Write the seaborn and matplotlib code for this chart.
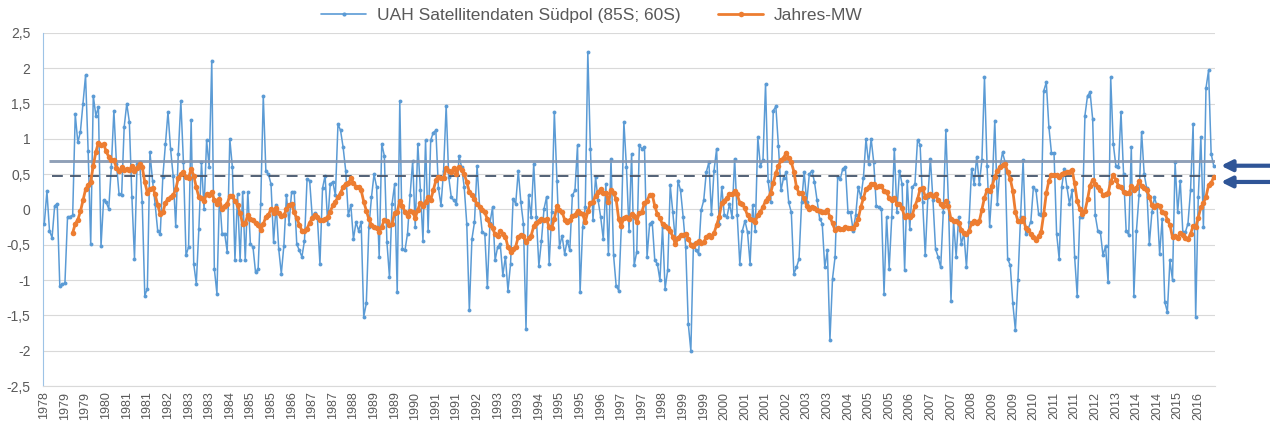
import matplotlib
matplotlib.use('Agg')
import matplotlib.pyplot as plt
import matplotlib.transforms as mtransforms
from matplotlib.lines import Line2D
from matplotlib.ticker import FuncFormatter
import numpy as np
import pandas as pd
import seaborn as sns

# UAH Südpol-Anomalien, monatlich ab Dez 1978 (je Zeile Dez..Nov)
uah_suedpol = [
    -0.20, 0.26, -0.30, -0.40, 0.05, 0.08, -1.08, -1.06, -1.04, -0.11, -0.10, -0.08,
    1.35, 0.95, 1.10, 1.50, 1.90, 0.83, -0.49, 1.61, 1.33, 1.45, -0.52, 0.13,
    0.10, 0.01, 0.60, 1.40, 0.65, 0.22, 0.20, 1.17, 1.50, 1.24, 0.17, -0.70,
    0.65, 0.67, 0.10, -1.22, -1.12, 0.81, 0.41, 0.08, -0.30, -0.34, 0.46, 0.93,
    1.38, 0.86, 0.48, -0.23, 0.79, 1.53, 0.67, -0.65, -0.53, 1.27, -0.77, -1.05,
    -0.27, 0.67, 0.01, 0.98, 0.60, 2.11, -0.84, -1.19, 0.22, -0.34, -0.34, -0.60,
    1.00, 0.60, -0.72, 0.22, -0.72, 0.25, -0.72, 0.25, -0.49, -0.53, -0.89, -0.84,
    0.08, 1.61, 0.55, 0.50, 0.36, -0.46, 0.06, -0.56, -0.91, -0.51, 0.20, -0.20,
    0.25, 0.25, -0.49, -0.58, -0.67, -0.44, 0.43, 0.41, -0.10, -0.05, -0.11, -0.77,
    0.30, 0.48, -0.20, 0.36, 0.39, 0.20, 1.21, 1.12, 0.88, 0.55, -0.08, 0.06,
    -0.42, -0.18, -0.30, -0.18, -1.52, -1.33, -0.25, 0.17, 0.50, 0.32, -0.67, 0.93,
    0.76, -0.46, -0.96, 0.08, 0.36, -1.17, 1.54, -0.56, -0.58, -0.34, 0.20, 0.69,
    -0.25, 0.93, 0.27, -0.44, 0.98, -0.30, 0.98, 1.09, 1.12, 0.30, 0.06, 0.55,
    1.47, 0.46, 0.17, 0.13, 0.08, 0.76, 0.60, 0.32, -0.20, -1.43, -0.42, -0.18,
    0.62, 0.03, -0.32, -0.34, -1.10, -0.19, 0.03, -0.72, -0.53, -0.49, -0.93, -0.67,
    -1.15, -0.77, 0.15, 0.08, 0.55, 0.10, -0.20, -1.69, 0.20, -0.11, 0.65, -0.11,
    -0.80, -0.44, 0.01, 0.18, -0.77, -0.04, 1.38, 0.41, -0.53, -0.37, -0.63, -0.44,
    -0.58, 0.20, 0.27, 0.91, -1.17, -0.25, 0.03, 2.23, 0.86, -0.15, 0.46, 0.13,
    -0.11, -0.42, 0.36, -0.63, 0.72, -0.65, -1.08, -1.15, -0.25, 1.24, 0.60, -0.30,
    0.79, -0.79, -0.60, 0.91, 0.86, 0.88, -0.67, -0.20, -0.18, -0.72, -0.77, -1.00,
    -0.25, -1.12, -0.86, 0.34, -0.04, -0.45, 0.41, 0.27, -0.10, -0.53, -1.62, -2.00,
    -0.49, -0.58, -0.63, -0.01, 0.13, 0.53, 0.67, -0.06, 0.55, 0.86, -0.20, 0.32,
    -0.08, -0.11, 0.08, -0.11, 0.72, -0.08, -0.77, -0.30, -0.16, -0.32, -0.77, 0.06,
    -0.30, 1.02, 0.62, 0.70, 1.78, 0.40, 0.10, 1.40, 1.46, 0.90, 0.27, 0.45,
    0.53, 0.10, -0.04, -0.91, -0.82, -0.70, 0.10, 0.53, 0.10, 0.50, 0.55, 0.39,
    0.13, -0.13, -0.20, -0.82, -0.58, -1.85, -0.98, -0.67, 0.46, 0.43, 0.58, 0.60,
    -0.04, -0.04, -0.30, -0.08, 0.32, 0.17, 0.45, 1.00, 0.65, 1.00, 0.67, 0.05,
    0.03, 0.01, -1.19, -0.11, -0.84, -0.11, 0.86, -0.04, 0.55, 0.36, -0.86, 0.41,
    -0.27, 0.32, 0.36, 0.98, 0.92, 0.10, -0.65, 0.17, 0.72, 0.13, -0.56, -0.67,
    -0.82, -0.04, 1.12, 0.10, -1.29, -0.16, -0.67, -0.10, -0.49, -0.34, -0.82, -0.18,
    0.58, 0.36, 0.75, 0.36, 0.70, 1.87, 0.62, -0.23, 0.32, 1.26, 0.08, 0.60,
    0.81, 0.67, -0.70, -0.79, -1.33, -1.71, -1.00, -0.11, 0.70, -0.34, -0.27, -0.17,
    0.32, 0.27, -0.06, -0.08, 1.68, 1.80, 1.17, 0.80, 0.80, -0.34, -0.70, 0.32,
    0.58, 0.32, 0.08, 0.27, -0.67, -1.22, -0.11, -0.11, 1.33, 1.61, 1.66, 1.28,
    -0.08, -0.30, -0.32, -0.65, -0.52, -1.03, 1.87, 0.93, 0.62, 0.60, 1.38, 0.50,
    -0.30, -0.36, 0.88, -1.22, -0.30, 0.20, 1.10, 0.50, 0.30, -0.49, -0.04, 0.17,
    0.05, -0.63, -0.13, -1.31, -1.45, -0.72, -1.00, 0.67, -0.04, 0.41, -0.32, -0.32,
    -0.20, 0.27, 1.21, -1.52, 0.17, 1.02, -0.25, 1.72, 1.97, 0.79, 0.62,
]

# Achsenbeschriftung, jede 8. Kategorie
jahr_labels = [
    '1978', '1979', '1979', '1980', '1981', '1981', '1982', '1983', '1983',
    '1984', '1985', '1985', '1986', '1987', '1987', '1988', '1989', '1989',
    '1990', '1991', '1991', '1992', '1993', '1993', '1994', '1995', '1995',
    '1996', '1997', '1997', '1998', '1999', '1999', '2000', '2001', '2001',
    '2002', '2003', '2003', '2004', '2005', '2005', '2006', '2007', '2007',
    '2008', '2009', '2009', '2010', '2011', '2011', '2012', '2013', '2014',
    '2014', '2015', '2016',
]

serien_namen = ['UAH Satellitendaten Südpol (85S; 60S)', 'Jahres-MW']
linie_hoch = 0.68
linie_gestrichelt = 0.47
pfeil_werte = [0.62, 0.39]

BLUE = '#5b9bd5'
ORANGE = '#ed7d31'
GREY_TXT = '#595959'

df = pd.DataFrame({'monat': np.arange(len(uah_suedpol)), 'wert': uah_suedpol})
df['jahres_mw'] = df['wert'].rolling(12).mean()
n = len(df)

sns.set_style('white')
plt.rcParams['font.family'] = ['Liberation Sans', 'DejaVu Sans']

fig = plt.figure(figsize=(12.7, 4.37), dpi=100)
ax = fig.add_axes([0.0339, 0.1167, 0.9228, 0.8078])

sns.lineplot(data=df, x='monat', y='wert', ax=ax, color=BLUE, linewidth=1.1,
             marker='o', markersize=2.8, markeredgewidth=0, zorder=3)
ax.hlines(linie_hoch, 1.7, n - 0.5, color='#8496b0', linewidth=2.1, alpha=0.9, zorder=3.5)
ax.hlines(linie_gestrichelt, 2.9, n - 0.5, color='#44546a', linewidth=1.3,
          linestyles=(0, (6, 4)), zorder=3.5)
sns.lineplot(data=df.dropna(), x='monat', y='jahres_mw', ax=ax, color=ORANGE,
             linewidth=2, marker='o', markersize=4, markeredgewidth=0, zorder=4)

ax.set_xlim(-0.5, n - 0.5)
ax.set_ylim(-2.5, 2.5)
ax.set_yticks(np.arange(-2.5, 2.51, 0.5))
ax.yaxis.set_major_formatter(FuncFormatter(lambda v, p: f'{v:g}'.replace('.', ',')))
ax.grid(axis='y', color='#d9d9d9', linewidth=0.8)
ax.grid(axis='x', visible=False)
ax.set_axisbelow(True)

pos = np.arange(0, n, 8)
ax.set_xticks(pos)
ax.set_xticklabels(jahr_labels[:len(pos)])
ax.set_xticks(np.arange(-0.5, n, 12), minor=True)
ax.tick_params(axis='x', which='major', length=0, pad=4, labelsize=9,
               labelrotation=90, labelcolor=GREY_TXT)
ax.tick_params(axis='x', which='minor', length=4, width=0.8, color='#bfbfbf')
ax.tick_params(axis='y', length=0, pad=9, labelsize=10, labelcolor=GREY_TXT)
ax.set_xlabel('')
ax.set_ylabel('')

for s in ['top', 'right']:
    ax.spines[s].set_visible(False)
ax.spines['left'].set_color('#9dc3e6')
ax.spines['bottom'].set_color('#d9d9d9')

trans = mtransforms.blended_transform_factory(ax.transAxes, ax.transData)
for yv in pfeil_werte:
    ax.annotate('', xy=(1.0051, yv), xytext=(1.047, yv), xycoords=trans, textcoords=trans,
                arrowprops=dict(arrowstyle='-|>', color='#2f5597', lw=3,
                                mutation_scale=16, shrinkA=0, shrinkB=0),
                annotation_clip=False)

handles = [Line2D([], [], color=BLUE, lw=1.2, marker='o', ms=3, mew=0),
           Line2D([], [], color=ORANGE, lw=2, marker='o', ms=4, mew=0)]
fig.legend(handles, serien_namen, loc='center', bbox_to_anchor=(0.466, 0.965), ncol=2,
           frameon=False, fontsize=12.5, handlelength=2.6, columnspacing=2.2,
           handletextpad=0.6, labelcolor=GREY_TXT)

fig.savefig('out.png', dpi=100)
